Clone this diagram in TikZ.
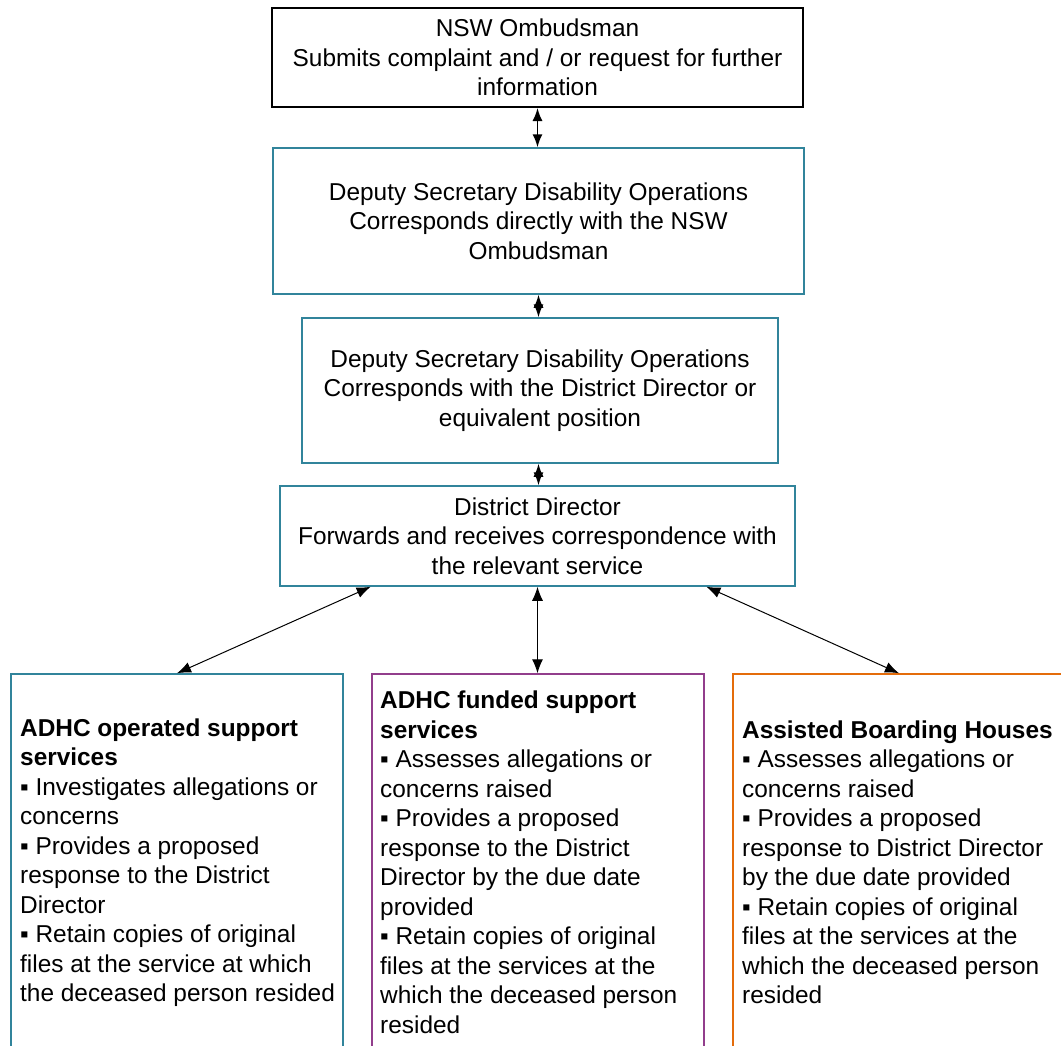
\documentclass[tikz,border=0pt]{standalone}
\usepackage{fontspec}
\setmainfont{Liberation Sans}
\usetikzlibrary{arrows.meta,calc}
\definecolor{tealb}{RGB}{49,132,155}
\definecolor{purpb}{RGB}{146,62,140}
\definecolor{orangeb}{RGB}{228,108,10}
\begin{document}
\begin{tikzpicture}[x=1pt,y=-1pt,
  every node/.style={font=\fontsize{24.4}{29.5}\selectfont},
  topbox/.style={draw=black, line width=2pt, inner sep=0pt, align=center},
  tbox/.style={draw=tealb, line width=1.5pt, inner sep=0pt, align=center},
  svcbox/.style={line width=1.5pt, inner sep=0pt, minimum width=332pt, minimum height=375pt},
  svctext/.style={anchor=west, align=left, inner sep=0pt},
  biarrow/.style={{Latex[length=14pt,width=11pt]}-{Latex[length=14pt,width=11pt]}, line width=1pt},
  bigarrow/.style={{Latex[length=13pt,width=10pt]}-{Latex[length=13pt,width=10pt]}, line width=1.5pt},
]
\clip (0,0) rectangle (1061,1045);
\fill[white] (0,0) rectangle (1061,1045);

\node[topbox, minimum width=531pt, minimum height=99pt] (omb) at (537.5,57.5)
  {NSW Ombudsman\\Submits complaint and / or request for further\\information};
\node[tbox, minimum width=531pt, minimum height=146pt] (ds1) at (538.5,221)
  {Deputy Secretary Disability Operations\\Corresponds directly with the NSW\\Ombudsman};
\node[tbox, minimum width=476pt, minimum height=145pt] (ds2) at (540,390.5)
  {Deputy Secretary Disability Operations\\Corresponds with the District Director or\\equivalent position};
\node[tbox, minimum width=515pt, minimum height=100pt] (dd) at (537.5,536)
  {District Director\\Forwards and receives correspondence with\\the relevant service};

\node[svcbox, draw=tealb] (adhc) at (177,861.5) {};
\node[svcbox, draw=purpb] (fund) at (538,861.5) {};
\node[svcbox, draw=orangeb] (abh) at (899,861.5) {};

\node[svctext] (adhct) at (20,862.5)
  {\textbf{ADHC operated support}\\\textbf{services}\\▪ Investigates allegations or\\concerns\\▪ Provides a proposed\\response to the District\\Director\\▪ Retain copies of original\\files at the service at which\\the deceased person resided};
\node[svctext] (fundt) at (380,862.5)
  {\textbf{ADHC funded support}\\\textbf{services}\\▪ Assesses allegations or\\concerns raised\\▪ Provides a proposed\\response to the District\\Director by the due date\\provided\\▪ Retain copies of original\\files at the services at the\\which the deceased person\\resided};
\node[svctext] (abht) at (742,862.5)
  {\textbf{Assisted Boarding Houses}\\▪ Assesses allegations or\\concerns raised\\▪ Provides a proposed\\response to District Director\\by the due date provided\\▪ Retain copies of original\\files at the services at the\\which the deceased person\\resided};

\draw[bigarrow] (omb.south) -- (omb.south |- ds1.north);
\draw[bigarrow] (ds1.south) -- (ds1.south |- ds2.north);
\draw[bigarrow] (ds1.south |- ds2.south) -- (ds1.south |- dd.north);
\draw[biarrow] ($(dd.south west)!0.177!(dd.south east)$) -- (adhc.north);
\draw[biarrow] (dd.south) -- (dd.south |- fund.north);
\draw[biarrow] ($(dd.south west)!0.827!(dd.south east)$) -- (abh.north);
\end{tikzpicture}
\end{document}
